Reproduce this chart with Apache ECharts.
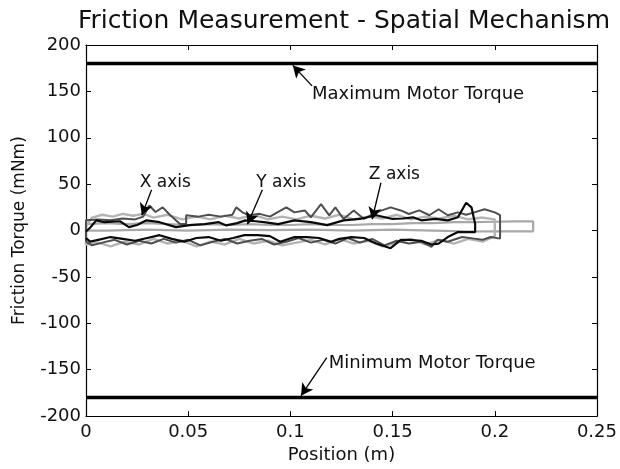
<!DOCTYPE html>
<html>
<head>
<meta charset="utf-8">
<script src="https://cdn.jsdelivr.net/npm/echarts@6/dist/echarts.min.js"></script>
<style>
  html, body { margin: 0; padding: 0; background: #fff; }
  #friction { width: 620px; height: 469px; }
</style>
</head>
<body>
<div id="friction"></div>
<script>
// tick labels
const xTicks = [0, 0.05, 0.1, 0.15, 0.2, 0.25];
const yTicks = [-200, -150, -100, -50, 0, 50, 100, 150, 200];

// motor limits
const maxTorque = [[0, 180], [0.25, 180]];
const minTorque = [[0, -180], [0.25, -180]];

// light gray, nearly flat run
const lightFlat = [[0, 3], [0, 7], [0.01, 8], [0.02, 7], [0.03, 8], [0.04, 7], [0.05, 6], [0.06, 7], [0.07, 6],
  [0.08, 7], [0.09, 6], [0.1, 6], [0.11, 7], [0.12, 6], [0.13, 6], [0.14, 7], [0.15, 7], [0.16, 8], [0.17, 8],
  [0.18, 9], [0.19, 9], [0.2, 9.5], [0.21, 9.8], [0.2188, 9.8], [0.2188, -0.8], [0.21, -0.8], [0.2, -0.8],
  [0.19, -1], [0.17, 0], [0.15, 1], [0.13, 0], [0.11, 1], [0.09, 0.5], [0.07, 1], [0.05, 0], [0.03, 1],
  [0.01, 0], [0, 0]];

// light gray, noisy run
const lightNoisy = [[0, 5], [0.003, 14], [0.008, 17], [0.013, 15], [0.018, 18], [0.023, 16], [0.028, 18],
  [0.033, 14], [0.04, 17], [0.047, 12], [0.054, 15], [0.061, 12], [0.068, 16], [0.075, 13], [0.082, 17],
  [0.089, 12], [0.096, 15], [0.103, 12], [0.11, 16], [0.117, 13], [0.124, 17], [0.131, 12], [0.138, 15],
  [0.145, 13], [0.152, 17], [0.159, 12], [0.166, 15], [0.173, 13], [0.18, 16], [0.187, 12], [0.194, 14],
  [0.2, 12], [0.2, -6], [0.194, -12], [0.187, -9], [0.18, -14], [0.173, -10], [0.166, -15], [0.159, -9],
  [0.152, -13], [0.145, -17], [0.138, -11], [0.131, -14], [0.124, -9], [0.117, -15], [0.11, -10],
  [0.103, -13], [0.096, -16], [0.089, -11], [0.082, -14], [0.075, -9], [0.068, -15], [0.061, -12],
  [0.054, -17], [0.047, -11], [0.04, -14], [0.033, -9], [0.026, -15], [0.019, -12], [0.012, -17],
  [0.006, -13], [0, -15], [0, 5]];

// dark gray run
const darkRun = [[0, -12], [0, 11], [0.006, 12], [0.012, 11], [0.018, 13], [0.024, 12], [0.028, 15],
  [0.031, 27], [0.034, 20], [0.0375, 25], [0.041, 17], [0.046, 7], [0.049, 7], [0.049, 16.5], [0.055, 15],
  [0.06, 17], [0.066, 15], [0.0716, 17], [0.0735, 25], [0.077, 19], [0.08, 16.5], [0.085, 18], [0.09, 15],
  [0.0936, 19.6], [0.098, 25], [0.102, 19.6], [0.107, 21.7], [0.11, 14.3], [0.115, 28.4], [0.119, 16.4],
  [0.122, 25], [0.126, 12.5], [0.131, 21.7], [0.136, 12.5], [0.142, 19.6], [0.149, 25], [0.154, 21.7],
  [0.158, 17.8], [0.163, 21.7], [0.168, 16.5], [0.1725, 23], [0.177, 16.5], [0.182, 19.6], [0.186, 17],
  [0.19, 19.6], [0.195, 23], [0.2, 19.6], [0.2026, 16.5], [0.2026, -8.7], [0.198, -7], [0.194, -10],
  [0.19, -8.7], [0.184, -7], [0.177, -12], [0.172, -10], [0.169, -17.5], [0.164, -12], [0.158, -14],
  [0.152, -11], [0.146, -16], [0.14, -9], [0.134, -13], [0.128, -8], [0.122, -14], [0.116, -10],
  [0.11, -13], [0.104, -8], [0.098, -12], [0.092, -15], [0.086, -9], [0.08, -11], [0.074, -14],
  [0.068, -9], [0.062, -12], [0.056, -16], [0.05, -10], [0.044, -13], [0.038, -9], [0.032, -14],
  [0.026, -11], [0.02, -15], [0.014, -10], [0.008, -13], [0.003, -16], [0, -12]];

// black run
const blackRun = [[0, -1], [0.002, 3], [0.005, 11], [0.009, 9], [0.0166, 10], [0.021, 3.7], [0.025, 6],
  [0.0296, 11], [0.036, 9], [0.044, 3.7], [0.0507, 5.8], [0.058, 7], [0.065, 9], [0.0686, 5.5], [0.074, 8],
  [0.078, 11], [0.083, 10], [0.087, 9], [0.094, 7], [0.102, 11], [0.11, 9], [0.118, 5.8], [0.126, 11],
  [0.134, 12.5], [0.142, 16.5], [0.15, 12.5], [0.155, 13], [0.16, 14.3], [0.164, 11], [0.171, 12.5],
  [0.177, 11], [0.182, 14.3], [0.186, 30], [0.1886, 25], [0.1904, 7], [0.1904, -1.6], [0.182, -1.6],
  [0.177, -7], [0.1725, -14], [0.169, -15], [0.164, -11], [0.158, -10], [0.154, -10], [0.149, -19],
  [0.142, -14], [0.136, -8], [0.13, -7], [0.124, -9], [0.12, -12], [0.114, -8], [0.108, -7], [0.102, -7],
  [0.095, -12], [0.09, -6], [0.084, -5], [0.0775, -5], [0.072, -8], [0.066, -11], [0.06, -7], [0.054, -8],
  [0.048, -12], [0.042, -9], [0.036, -5], [0.03, -8], [0.024, -11], [0.018, -9], [0.012, -7], [0.006, -10],
  [0.002, -12], [0, -8]];

// annotations
const noteLabels = ['X axis', 'Y axis', 'Z axis', 'Maximum Motor Torque', 'Minimum Motor Torque'];
const noteTextAt = [[0.0263, 51.5], [0.0833, 51.5], [0.1384, 60], [0.1106, 147], [0.1188, -143]];
const noteArrowFrom = [[0.0321, 44], [0.0863, 44], [0.1443, 51.5], [0.1106, 156], [0.1178, -137]];
const noteArrowTo = [[0.0273, 16.4], [0.079, 6.9], [0.14, 12.2], [0.1012, 178], [0.1052, -178]];
const noteSizes = [17, 17, 17, 18, 18];

const fontFam = 'DejaVu Sans';
const chart = echarts.init(document.getElementById('friction'));

const tickAxis = {
  axisLine: { show: true, onZero: false, lineStyle: { color: '#000', width: 1.2 } },
  axisTick: { show: true, inside: true, length: 5, lineStyle: { color: '#000' } },
  splitLine: { show: false }
};

const option = {
  animation: false,
  backgroundColor: '#fff',
  title: {
    text: 'Friction Measurement - Spatial Mechanism',
    left: 339,
    textAlign: 'center',
    top: 4,
    textStyle: { fontFamily: fontFam, fontSize: 25, fontWeight: 'normal', color: '#111' }
  },
  grid: { left: 86, right: 21, top: 45, bottom: 47 },
  xAxis: [
    Object.assign({}, tickAxis, {
      type: 'value', min: xTicks[0], max: xTicks[xTicks.length - 1], interval: 0.05,
      name: 'Position (m)', nameLocation: 'middle', nameGap: 27,
      nameTextStyle: { fontFamily: fontFam, fontSize: 18, color: '#111' },
      axisLabel: { fontFamily: fontFam, fontSize: 18, color: '#111', margin: 7 }
    }),
    Object.assign({}, tickAxis, {
      type: 'value', position: 'top', min: 0, max: 0.25, interval: 0.05,
      axisLabel: { show: false }
    })
  ],
  yAxis: [
    Object.assign({}, tickAxis, {
      type: 'value', min: yTicks[0], max: yTicks[yTicks.length - 1], interval: 50,
      name: 'Friction Torque (mNm)', nameLocation: 'middle', nameGap: 58,
      nameTextStyle: { fontFamily: fontFam, fontSize: 17, color: '#111' },
      axisLabel: { fontFamily: fontFam, fontSize: 18, color: '#111', margin: 5 }
    }),
    Object.assign({}, tickAxis, {
      type: 'value', position: 'right', min: -200, max: 200, interval: 50,
      axisLabel: { show: false }
    })
  ],
  series: [
    {
      type: 'line', data: lightFlat, symbol: 'none',
      lineStyle: { color: '#a8a8a8', width: 2.2 }
    },
    {
      type: 'line', data: lightNoisy, symbol: 'none',
      lineStyle: { color: '#b4b4b4', width: 2.4 }
    },
    {
      type: 'line', data: darkRun, symbol: 'none',
      lineStyle: { color: '#4e4e4e', width: 2 }
    },
    {
      type: 'line', data: blackRun, symbol: 'none',
      lineStyle: { color: '#0a0a0a', width: 2.2 }
    },
    {
      type: 'line', data: minTorque, symbol: 'none',
      lineStyle: { color: '#000', width: 3.5 }
    },
    {
      type: 'line', data: maxTorque, symbol: 'none',
      lineStyle: { color: '#000', width: 3.5 },
      markLine: {
        silent: true,
        symbol: ['none', 'arrow'],
        symbolSize: [10, 12],
        label: { show: false },
        lineStyle: { color: '#000', width: 1.3, type: 'solid' },
        data: noteLabels.map((n, i) => [
          { coord: noteArrowFrom[i] },
          { coord: noteArrowTo[i] }
        ])
      },
      markPoint: {
        silent: true,
        symbol: 'circle',
        symbolSize: 0,
        data: noteLabels.map((n, i) => ({
          name: n,
          coord: noteTextAt[i],
          label: {
            show: true, position: 'right', distance: 0, formatter: n,
            fontFamily: fontFam, fontSize: noteSizes[i], color: '#111'
          }
        }))
      }
    }
  ]
};

chart.setOption(option);
</script>
</body>
</html>
